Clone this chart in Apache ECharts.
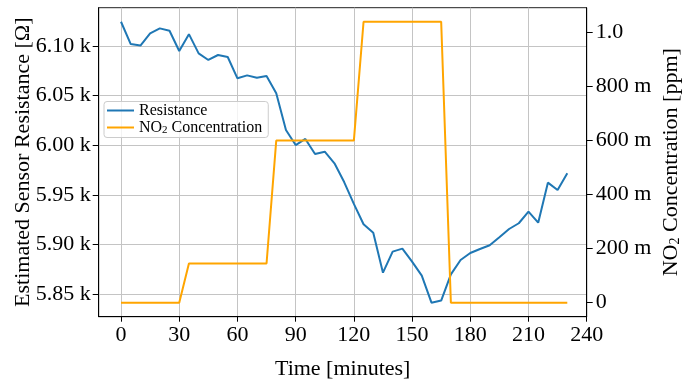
<!DOCTYPE html>
<html>
<head>
<meta charset="utf-8">
<script src="https://cdn.jsdelivr.net/npm/echarts@6/dist/echarts.min.js"></script>
<style>
html,body{margin:0;padding:0;background:#fff;}
#c{width:694px;height:386px;}
</style>
</head>
<body>
<div id="c"></div>
<script>
// Time stamps [minutes]
var times = [0,5,10,15,20,25,30,35,40,45,50,55,60,65,70,75,80,85,90,95,100,105,110,115,120,125,130,135,140,145,150,155,160,165,170,175,180,185,190,195,200,205,210,215,220,225,230];
// Estimated sensor resistance [Ohm]
var resistance = [6124.5,6102,6100.5,6112.8,6117.8,6115.4,6095,6112,6092.6,6086,6091,6089,6067.5,6070.5,6068,6069.8,6052.4,6015.4,6000.3,6006.4,5991.3,5993.6,5981.9,5963,5941,5920.5,5912,5871.7,5892.9,5895.9,5882.8,5868.7,5841.5,5843.6,5870,5884.5,5891.5,5895.6,5899.3,5907.4,5915.7,5921.5,5933.2,5922.1,5962.4,5955,5971.8];
// NO2 concentration [ppm]
var no2 = [0,0,0,0,0,0,0,0.145,0.145,0.145,0.145,0.145,0.145,0.145,0.145,0.145,0.6,0.6,0.6,0.6,0.6,0.6,0.6,0.6,0.6,1.04,1.04,1.04,1.04,1.04,1.04,1.04,1.04,1.04,0,0,0,0,0,0,0,0,0,0,0,0,0];
// Axis tick values
var xTicks = [0,30,60,90,120,150,180,210,240];
var leftTicks = [5850,5900,5950,6000,6050,6100];
var rightTicks = [0,0.2,0.4,0.6,0.8,1.0];

var FONT = 'Liberation Serif';
var FS = 22;
function near(v, arr, tol){ for (var i=0;i<arr.length;i++){ if (Math.abs(v-arr[i])<tol) return true; } return false; }

var chart = echarts.init(document.getElementById('c'), null, {renderer:'canvas'});
var resData = times.map(function(t,i){ return [t, resistance[i]]; });
var no2Data = times.map(function(t,i){ return [t, no2[i]]; });

chart.setOption({
  animation:false,
  backgroundColor:'#fff',
  textStyle:{fontFamily:FONT},
  grid:{left:98.7, right:107.3, top:7.7, bottom:69.3, containLabel:false, outerBoundsMode:'none',
    show:true, borderColor:'#222', borderWidth:1, backgroundColor:'transparent'},
  legend:{
    orient:'vertical', left:104, top:101.5,
    data:['Resistance','NO2 Concentration'],
    icon:'rect', itemWidth:27, itemHeight:2, itemGap:1,
    padding:[1,6,2,3],
    backgroundColor:'rgba(255,255,255,0.8)', borderColor:'#cccccc', borderWidth:1, borderRadius:3,
    formatter:function(n){ return n==='NO2 Concentration' ? 'NO{sub|2} Concentration' : n; },
    textStyle:{fontFamily:FONT, fontSize:16, color:'#000', lineHeight:16,
      rich:{sub:{fontFamily:FONT, fontSize:11, color:'#000', verticalAlign:'bottom', lineHeight:10}}}
  },
  xAxis:{
    type:'value', min:-11.5, max:240, minInterval:30, maxInterval:30,
    name:'Time [minutes]', nameLocation:'middle', nameGap:42, nameMoveOverlap:false,
    nameTextStyle:{fontFamily:FONT, fontSize:FS, color:'#000'},
    axisLine:{show:true, onZero:false, lineStyle:{color:'#000', width:1}},
    axisTick:{show:true, length:5, customValues:xTicks, lineStyle:{color:'#000'}},
    axisLabel:{fontFamily:FONT, fontSize:FS, color:'#000', margin:8, customValues:xTicks,
      formatter:function(v){ return near(v,xTicks,0.01) ? String(Math.round(v)) : ''; }},
    splitLine:{show:true, lineStyle:{color:'#c4c4c4', width:1}}
  },
  yAxis:[{
    type:'value', position:'left', min:5827.35, max:6138.65, minInterval:50, maxInterval:50,
    name:'Estimated Sensor Resistance [Ω]', nameLocation:'middle', nameGap:64, nameMoveOverlap:false,
    nameTextStyle:{fontFamily:FONT, fontSize:FS, color:'#000'},
    axisLine:{show:true, onZero:false, lineStyle:{color:'#000', width:1}},
    axisTick:{show:true, length:6, customValues:leftTicks, lineStyle:{color:'#000'}},
    axisLabel:{fontFamily:FONT, fontSize:FS, color:'#000', margin:8, customValues:leftTicks,
      formatter:function(v){ return near(v,leftTicks,0.01) ? (v/1000).toFixed(2)+' k' : ''; }},
    splitLine:{show:true, lineStyle:{color:'#c4c4c4', width:1}}
  },{
    type:'value', position:'right', min:-0.052, max:1.092, minInterval:0.2, maxInterval:0.2,
    name:'NO{sub|2} Concentration [ppm]', nameLocation:'middle', nameGap:74, nameMoveOverlap:false,
    nameTextStyle:{fontFamily:FONT, fontSize:FS, color:'#000', lineHeight:22,
      rich:{sub:{fontFamily:FONT, fontSize:14, color:'#000', verticalAlign:'bottom', lineHeight:14}}},
    axisLine:{show:true, onZero:false, lineStyle:{color:'#000', width:1}},
    axisTick:{show:true, length:6, customValues:rightTicks, lineStyle:{color:'#000'}},
    axisLabel:{fontFamily:FONT, fontSize:FS, color:'#000', margin:9, customValues:rightTicks,
      formatter:function(v){
        if (!near(v,rightTicks,1e-6)) return '';
        if (Math.abs(v)<1e-9) return '0';
        if (v>=0.999) return v.toFixed(1);
        return Math.round(v*1000)+' m';
      }},
    splitLine:{show:false}
  }],
  series:[{
    name:'Resistance', type:'line', yAxisIndex:0, data:resData,
    symbol:'none', lineStyle:{color:'#1f77b4', width:2}, itemStyle:{color:'#1f77b4'}, z:2
  },{
    name:'NO2 Concentration', type:'line', yAxisIndex:1, data:no2Data,
    symbol:'none', lineStyle:{color:'#ffa500', width:2}, itemStyle:{color:'#ffa500'}, z:3
  }]
});
</script>
</body>
</html>
